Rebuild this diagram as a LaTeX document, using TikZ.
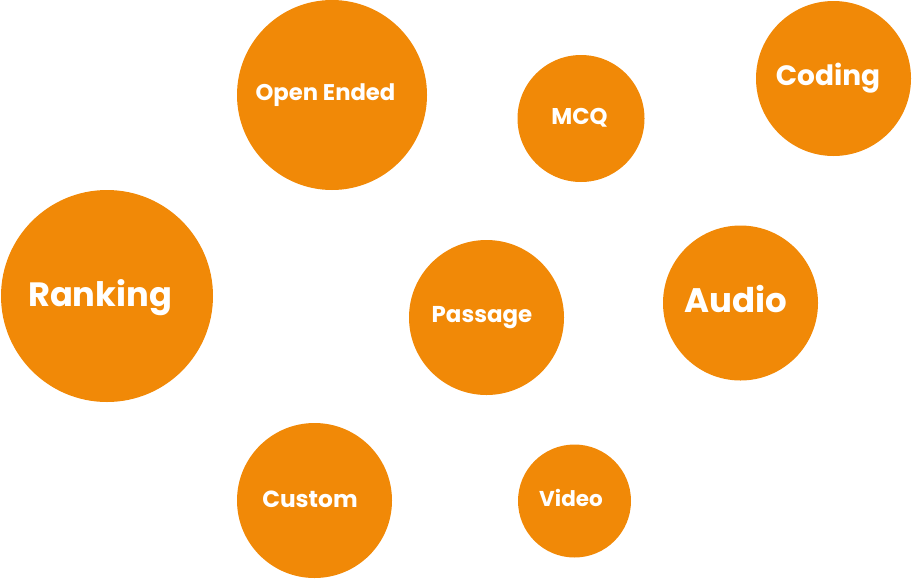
\documentclass[tikz,border=0pt]{standalone}
\usepackage{fontspec}
\setmainfont{Poppins}
\definecolor{bubble}{RGB}{241,137,7}
\begin{document}
\begin{tikzpicture}[x=1pt,y=-1pt,
  bub/.style={fill=bubble,draw=none},
  lbl/.style={text=white,font=\bfseries,anchor=base,inner sep=0pt}]
\useasboundingbox (0,0) rectangle (912,579);
\fill[bub] (332,95) circle (95);
\fill[bub] (581,118.5) circle (63.5);
\fill[bub] (833.5,78.5) circle (77.5);
\fill[bub] (107,296) circle (106);
\fill[bub] (486.5,317.5) circle (77.5);
\fill[bub] (740.5,303) circle (77.5);
\fill[bub] (314.5,500.5) circle (77.5);
\fill[bub] (574.5,501) circle (56.5);
\node[lbl,font=\bfseries\fontsize{33.7}{38}\selectfont] (ranking) at (100,306) {Ranking};
\node[lbl,font=\bfseries\fontsize{22.7}{26}\selectfont] (open) at (325.5,100) {Open Ended};
\node[lbl,font=\bfseries\fontsize{22.8}{26}\selectfont] (mcq) at (579.5,124) {MCQ};
\node[lbl,font=\bfseries\fontsize{28}{32}\selectfont] (coding) at (828,85) {Coding};
\node[lbl,font=\bfseries\fontsize{22.9}{26}\selectfont] (passage) at (482,322) {Passage};
\node[lbl,font=\bfseries\fontsize{34}{38}\selectfont] (audio) at (736,312) {Audio};
\node[lbl,font=\bfseries\fontsize{23.3}{27}\selectfont] (custom) at (310,507) {Custom};
\node[lbl,font=\bfseries\fontsize{21.5}{24}\selectfont] (video) at (571,506) {Video};
\end{tikzpicture}
\end{document}
